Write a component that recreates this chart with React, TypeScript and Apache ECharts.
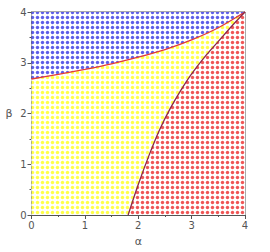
import React, { useEffect, useRef } from "react";
import * as echarts from "echarts";

const upperAlpha = [0, 0.5, 1, 1.5, 2, 2.5, 3, 3.5, 4];
const upperBeta = [2.68, 2.77, 2.87, 2.98, 3.11, 3.26, 3.45, 3.69, 4.0];

const lowerAlpha = [1.81, 2.0, 2.2, 2.4, 2.6, 2.8, 3.0, 3.25, 3.5, 3.75, 4];
const lowerBeta = [0, 0.6, 1.17, 1.68, 2.1, 2.46, 2.78, 3.12, 3.42, 3.72, 4.0];

const topAlpha = [0, 4];
const topBeta = [4, 4];

const tickValues = [0, 1, 2, 3, 4];

function dotPattern(color: string) {
  const svg = `<svg xmlns="http://www.w3.org/2000/svg" width="5" height="5"><rect width="5" height="5" fill="#ffffff"/><circle cx="2.5" cy="2.5" r="1.7" fill="${color}"/></svg>`;
  return {
    image: "data:image/svg+xml;charset=utf-8," + encodeURIComponent(svg),
    repeat: "repeat",
    imageWidth: 5,
    imageHeight: 5,
  } as any;
}

const zip = (a: number[], b: number[]) => a.map((x, i) => [x, b[i]]);

export default function App() {
  const ref = useRef<HTMLDivElement>(null);
  useEffect(() => {
    const chart = echarts.init(ref.current!, null, { renderer: "svg" });
    const axisCommon = {
      type: "value",
      min: tickValues[0],
      max: tickValues[tickValues.length - 1],
      interval: 1,
      axisLine: { show: true, lineStyle: { color: "#555", width: 1 } },
      axisTick: { show: true, length: 4, lineStyle: { color: "#555" } },
      minorTick: { show: true, splitNumber: 2, length: 2, lineStyle: { color: "#555" } },
      splitLine: { show: false },
      axisLabel: { color: "#555", fontSize: 10, fontFamily: "DejaVu Sans" },
      nameTextStyle: { color: "#555", fontSize: 11, fontFamily: "DejaVu Sans" },
    };
    chart.setOption({
      animation: false,
      grid: {
        left: 31.5,
        right: 25,
        top: 12,
        bottom: 34,
        show: true,
        borderColor: "#555",
        borderWidth: 1,
        backgroundColor: "transparent",
      },
      xAxis: {
        ...axisCommon,
        name: "α",
        nameLocation: "middle",
        nameGap: 21,
        axisLabel: { ...axisCommon.axisLabel, margin: 5 },
      },
      yAxis: {
        ...axisCommon,
        name: "β",
        nameLocation: "middle",
        nameGap: 19,
        nameRotate: 0,
        axisLabel: { ...axisCommon.axisLabel, margin: 5 },
      },
      series: [
        {
          type: "line",
          data: zip(topAlpha, topBeta),
          symbol: "none",
          lineStyle: { width: 0 },
          areaStyle: { color: dotPattern("#5e5ee8"), opacity: 1 },
          z: 1,
        },
        {
          type: "line",
          data: zip(upperAlpha, upperBeta),
          symbol: "none",
          smooth: 0.3,
          lineStyle: { width: 0 },
          areaStyle: { color: dotPattern("#ffff48"), opacity: 1 },
          z: 2,
        },
        {
          type: "line",
          data: zip(lowerAlpha, lowerBeta),
          symbol: "none",
          smooth: 0.3,
          lineStyle: { width: 0 },
          areaStyle: { color: dotPattern("#f05656"), opacity: 1 },
          z: 3,
        },
        {
          type: "line",
          data: zip(upperAlpha, upperBeta),
          symbol: "none",
          smooth: 0.3,
          lineStyle: { width: 1.3, color: "#e23a3a" },
          z: 5,
        },
        {
          type: "line",
          data: zip(lowerAlpha, lowerBeta),
          symbol: "none",
          smooth: 0.3,
          lineStyle: { width: 1.3, color: "#8a2a48" },
          z: 5,
        },
      ],
    });
    return () => chart.dispose();
  }, []);
  return <div ref={ref} style={{ width: 270, height: 252, position: "absolute", left: 0, top: 0 }} />;
}
